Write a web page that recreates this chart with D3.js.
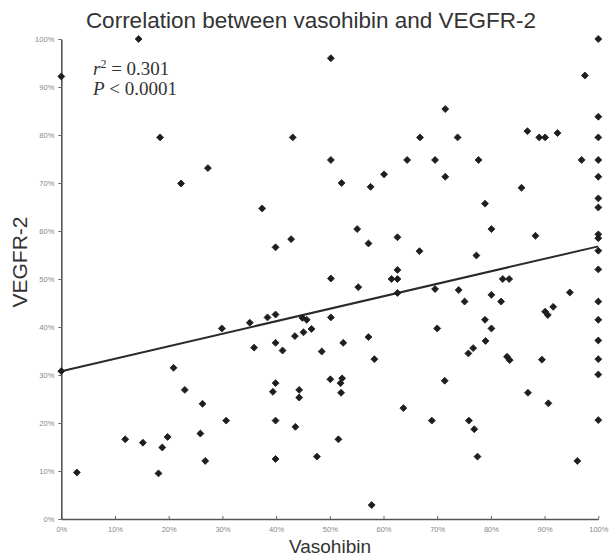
<!DOCTYPE html>
<html>
<head>
<meta charset="utf-8">
<script src="https://cdn.jsdelivr.net/npm/d3@7"></script>
<style>
  body { margin: 0; background: #fff; }
  svg { display: block; }
</style>
</head>
<body>
<svg id="chart" width="610" height="556"></svg>
<script>
// values, in percent
var vasohibin = [
  0, 14.4, 18.4, 22.3, 27.3,
  0, 29.9, 20.9, 23.0, 26.3, 30.7, 11.9, 15.2, 18.8, 19.8, 25.9, 26.8, 18.1, 2.9,
  50.2, 43.1, 50.2, 52.2, 57.6, 60.1, 66.8, 64.4, 37.4, 55.1, 39.9, 42.8, 57.2, 62.6, 66.7, 62.6,
  50.2, 55.3, 61.5, 62.6, 62.6,
  35.1, 38.4, 39.9, 44.9, 45.7, 50.2, 35.9, 39.9, 41.2, 43.5, 45.1, 46.6, 48.5, 52.5, 57.2, 58.3,
  39.9, 39.4, 44.3, 44.3, 50.1, 52.3, 52.0, 52.1, 63.7, 39.9, 43.6, 51.6, 39.9, 47.6, 57.8,
  71.5, 73.8, 86.8, 89.0, 90.1, 92.4, 97.5, 69.6, 77.7, 96.9, 71.5, 85.7, 78.9, 80.1, 88.3, 77.3,
  82.2, 83.4, 69.6, 74.0, 75.1, 80.1, 81.9, 94.7, 90.1, 90.6, 91.6, 70.0, 78.9, 80.1, 79.0, 76.7,
  75.8, 83.0, 83.5, 89.5, 71.4, 86.9, 90.7, 69.0, 75.9, 76.9, 77.5, 96.1,
  100, 100, 100, 100, 100, 100, 100, 100, 100, 100, 100, 100, 100, 100, 100, 100, 100
];
var vegfr2 = [
  92.2, 100, 79.5, 69.9, 73.1,
  30.8, 39.7, 31.5, 26.9, 24.0, 20.5, 16.6, 15.9, 14.9, 17.1, 17.8, 12.1, 9.5, 9.7,
  96.0, 79.5, 74.8, 70.0, 69.2, 71.8, 79.5, 74.8, 64.7, 60.4, 56.6, 58.3, 57.4, 58.7, 55.8, 51.9,
  50.1, 48.3, 50.0, 50.0, 47.1,
  40.9, 42.0, 42.6, 41.9, 41.5, 42.0, 35.7, 36.7, 35.1, 38.1, 38.9, 39.6, 34.9, 36.7, 37.9, 33.3,
  28.3, 26.5, 26.9, 25.3, 29.1, 29.3, 28.3, 26.3, 23.1, 20.5, 19.2, 16.6, 12.5, 13.0, 2.9,
  85.4, 79.5, 80.8, 79.5, 79.5, 80.4, 92.4, 74.8, 74.8, 74.8, 71.3, 69.0, 65.7, 60.4, 59.0, 54.9,
  50.0, 50.0, 47.9, 47.7, 45.3, 46.7, 45.3, 47.2, 43.2, 42.5, 44.2, 39.7, 41.5, 39.7, 37.1, 35.6,
  34.5, 33.8, 33.1, 33.2, 28.8, 26.3, 24.1, 20.5, 20.5, 18.7, 13.0, 12.1,
  100, 83.8, 79.5, 74.8, 71.3, 66.8, 64.9, 59.3, 58.5, 55.9, 52.0, 45.3, 41.5, 37.2, 33.3, 30.1, 20.6
];
var fitX = [0, 100];
var fitY = [30.8, 56.8];
var tickValues = [0, 10, 20, 30, 40, 50, 60, 70, 80, 90, 100];

var svg = d3.select("#chart");

var x = d3.scaleLinear().domain([0, 100]).range([61.3, 598.3]);
var y = d3.scaleLinear().domain([0, 100]).range([519, 39]);

/* axes */
var xAxis = svg.append("g")
  .attr("transform", "translate(0," + y(0) + ")")
  .call(d3.axisBottom(x).tickValues(tickValues).tickSizeInner(-3).tickSizeOuter(0)
    .tickFormat(function(d){ return d + "%"; }));

var yAxis = svg.append("g")
  .attr("transform", "translate(" + x(0) + ",0)")
  .call(d3.axisLeft(y).tickValues(tickValues).tickSize(3).tickSizeOuter(0)
    .tickFormat(function(d){ return d + "%"; }));

svg.selectAll(".domain")
  .attr("stroke", "#555")
  .attr("stroke-width", 1.6);
svg.selectAll(".tick line")
  .attr("stroke", "#666")
  .attr("stroke-width", 1);
svg.selectAll(".tick text")
  .attr("fill", "#888")
  .attr("font-family", "Liberation Sans, Arial, sans-serif")
  .attr("font-size", 7.5);
xAxis.selectAll(".tick text").attr("y", 8);
yAxis.selectAll(".tick text").attr("x", -7);

/* regression line */
var line = d3.line()
  .x(function(d){ return x(d[0]); })
  .y(function(d){ return y(d[1]); });

svg.append("path")
  .datum(d3.zip(fitX, fitY))
  .attr("d", line)
  .attr("fill", "none")
  .attr("stroke", "#2a2a2a")
  .attr("stroke-width", 2);

/* points */
svg.append("g")
  .selectAll("path")
  .data(d3.zip(vasohibin, vegfr2))
  .join("path")
  .attr("d", d3.symbol(d3.symbolSquare, 24))
  .attr("transform", function(d){
    return "translate(" + x(d[0]) + "," + y(d[1]) + ") rotate(45)";
  })
  .attr("fill", "#1e1e1e")
  .attr("stroke", "#1e1e1e")
  .attr("stroke-width", 0.8)
  .attr("stroke-linejoin", "round");

/* texts */
svg.append("text")
  .attr("x", 311)
  .attr("y", 28)
  .attr("text-anchor", "middle")
  .attr("font-family", "Liberation Sans, Arial, sans-serif")
  .attr("font-size", 22.5)
  .attr("fill", "#333")
  .text("Correlation between vasohibin and VEGFR-2");

svg.append("text")
  .attr("transform", "translate(27,262) rotate(-90)")
  .attr("text-anchor", "middle")
  .attr("font-family", "Liberation Sans, Arial, sans-serif")
  .attr("font-size", 21)
  .attr("fill", "#333")
  .text("VEGFR-2");

svg.append("text")
  .attr("x", 330)
  .attr("y", 553)
  .attr("text-anchor", "middle")
  .attr("font-family", "Liberation Sans, Arial, sans-serif")
  .attr("font-size", 19)
  .attr("fill", "#333")
  .text("Vasohibin");

var stats = svg.append("g")
  .attr("font-family", "Liberation Serif, Times New Roman, serif")
  .attr("font-size", 19)
  .attr("fill", "#333");

var t1 = stats.append("text").attr("x", 93).attr("y", 75);
t1.append("tspan").attr("font-style", "italic").text("r");
t1.append("tspan").attr("dy", -7).attr("font-size", 12).text("2");
t1.append("tspan").attr("dy", 7).text(" = 0.301");

var t2 = stats.append("text").attr("x", 93).attr("y", 95);
t2.append("tspan").attr("font-style", "italic").text("P");
t2.append("tspan").text(" < 0.0001");
</script>
</body>
</html>
